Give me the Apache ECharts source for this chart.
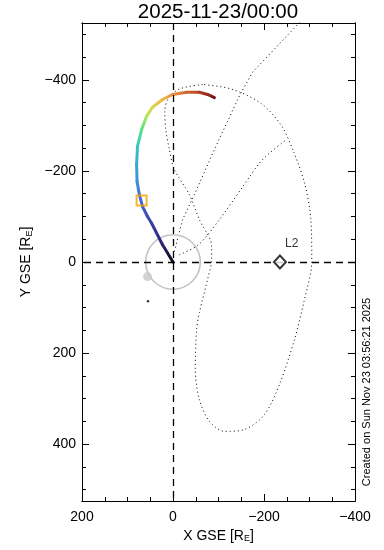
<!DOCTYPE html>
<html><head><meta charset="utf-8">
<script src="https://cdn.jsdelivr.net/npm/echarts@6/dist/echarts.min.js"></script>
<style>html,body{margin:0;padding:0;background:#fff}#c{width:384px;height:550px}</style>
</head><body><div id="c"></div>
<script>
// ---- texts ----
const titleText = '2025-11-23/00:00';
const createdText = 'Created on Sun Nov 23 03:56:21 2025';
const xName = 'X GSE [R{sub|E}]';
const yName = 'Y GSE [R{sub|E}]';
// ---- ticks ----
const xTicks = [200, 0, -200, -400];
const xMinor = [150, 100, 50, -50, -100, -150, -250, -300, -350];
const yTicks = [-400, -200, 0, 200, 400];
const yMinor = [-500, -450, -350, -300, -250, -150, -100, -50, 50, 100, 150, 250, 300, 350, 450, 500];
// ---- coloured trajectory (GSE X, Y in Re) and relative time ----
const trackX = [0, 23, 47, 56, 67, 74, 79, 80, 78, 69, 58, 45, 23, 1, -30, -58, -76, -91];
const trackY = [0, -38, -85, -100, -122, -148, -177, -214, -254, -291, -320, -340, -357, -368, -373, -373, -368, -361];
const trackT = [0, 0.1, 0.22, 0.26, 0.31, 0.36, 0.41, 0.46, 0.52, 0.6, 0.66, 0.71, 0.76, 0.8, 0.85, 0.9, 0.94, 1.0];
// ---- dotted orbit paths ----
const dotAX = [-3, -21, -47, -91, -146, -175, -278, -300];
const dotAY = [-23, -93, -148, -247, -365, -417, -526, -552];
const dotCX = [-14, -56, -102, -153, -196, -248];
const dotCY = [-16, -38, -93, -165, -224, -268];
const dotLX = [-65, -14, 10, 18, 16, 8, -3, -36, -58, -85, -85, -76, -58, -52, -49, -58, -80, -113, -157, -201, -234, -267, -289, -305, -303, -290, -266, -238, -194, -128, -65];
const dotLY = [-390, -380, -360, -330, -291, -247, -203, -148, -93, -34, -5, 38, 111, 148, 236, 302, 350, 372, 368, 335, 269, 170, 82, 0, -93, -170, -240, -300, -348, -380, -390];
// ---- point markers ----
const markPos = [69, -135];
const moonPos = [56, 32];
const moonOrbitR = 60;
const smallDot = [55, 86];
const l2Pos = [-235, 0];
const l2Label = 'L2';

const FONT = "'Liberation Sans', Arial, sans-serif";
const stops = [
  [0.0, [20, 10, 30]], [0.1, [45, 35, 110]], [0.25, [60, 70, 180]], [0.35, [70, 110, 215]],
  [0.5, [50, 190, 215]], [0.6, [90, 225, 130]], [0.68, [200, 230, 80]], [0.75, [245, 190, 70]],
  [0.82, [225, 130, 60]], [0.9, [180, 60, 35]], [1.0, [110, 20, 20]]
];
function cmap(t) {
  for (let i = 1; i < stops.length; i++) {
    if (t <= stops[i][0]) {
      const a = stops[i - 1], b = stops[i];
      const f = (t - a[0]) / (b[0] - a[0]);
      const c = a[1].map((v, k) => Math.round(v + (b[1][k] - v) * f));
      return 'rgb(' + c.join(',') + ')';
    }
  }
  return 'rgb(' + stops[stops.length - 1][1].join(',') + ')';
}
const zip = (xs, ys) => xs.map((x, i) => [x, ys[i]]);
const segs = [];
for (let i = 0; i < trackX.length - 1; i++) {
  segs.push([trackX[i], trackY[i], trackX[i + 1], trackY[i + 1], trackT[i], trackT[i + 1]]);
}

const black = '#000';
function xAx(pos, vals, len, labels) {
  return {
    type: 'value', position: pos, min: -400, max: 200, inverse: true,
    axisLine: { show: true, onZero: false, lineStyle: { color: black, width: 1 } },
    axisTick: { show: true, inside: true, length: len, customValues: vals, lineStyle: { color: black, width: 1 } },
    axisLabel: { show: labels, customValues: vals, color: black, fontSize: 14, fontFamily: FONT, margin: 9,
      formatter: v => (v < 0 ? '\u2212' + (-v) : '' + v) },
    splitLine: { show: false }
  };
}
function yAx(pos, vals, len, labels) {
  return {
    type: 'value', position: pos, min: -525, max: 525, inverse: true,
    axisLine: { show: true, onZero: false, lineStyle: { color: black, width: 1 } },
    axisTick: { show: true, inside: true, length: len, customValues: vals, lineStyle: { color: black, width: 1 } },
    axisLabel: { show: labels, customValues: vals, color: black, fontSize: 14, fontFamily: FONT, margin: 6,
      formatter: v => (v < 0 ? '\u2212' + (-v) : '' + v) },
    splitLine: { show: false }
  };
}
const xAxes = [xAx('bottom', xTicks, 7, true), xAx('bottom', xMinor, 4, false), xAx('top', xTicks, 7, false), xAx('top', xMinor, 4, false)];
xAxes[0].name = xName; xAxes[0].nameLocation = 'middle'; xAxes[0].nameGap = 24;
xAxes[0].nameTextStyle = { fontSize: 14, fontFamily: FONT, color: black, rich: { sub: { fontSize: 9, verticalAlign: 'bottom', padding: [6, 0, 0, 0], fontFamily: FONT } } };
const yAxes = [yAx('left', yTicks, 7, true), yAx('left', yMinor, 4, false), yAx('right', yTicks, 7, false), yAx('right', yMinor, 4, false)];
yAxes[0].name = yName; yAxes[0].nameLocation = 'middle'; yAxes[0].nameGap = 47;
yAxes[0].nameTextStyle = { fontSize: 14, fontFamily: FONT, color: black, rich: { sub: { fontSize: 9, verticalAlign: 'bottom', padding: [6, 0, 0, 0], fontFamily: FONT } } };

const dotStyle = { color: black, width: 1, type: [1, 3] };
const chart = echarts.init(document.getElementById('c'), null, { renderer: 'canvas' });
chart.setOption({
  animation: false,
  backgroundColor: '#fff',
  grid: { left: 82, right: 29, top: 23, bottom: 49, containLabel: false },
  xAxis: xAxes,
  yAxis: yAxes,
  graphic: [
    { type: 'text', x: 218, y: 12, style: { text: titleText, font: '20.5px ' + FONT, fill: black, textAlign: 'center', textVerticalAlign: 'middle' } },
    { type: 'text', x: 367, y: 392, rotation: Math.PI / 2, style: { text: createdText, font: '11px ' + FONT, fill: black, textAlign: 'center', textVerticalAlign: 'middle' } }
  ],
  series: [
    {
      type: 'line', data: zip(dotAX, dotAY), showSymbol: false, symbol: 'none', clip: true, z: 2,
      lineStyle: dotStyle,
      markLine: {
        silent: true, symbol: ['none', 'none'], label: { show: false },
        lineStyle: { color: black, width: 1.3, type: [7, 5] },
        data: [{ xAxis: 0 }, { yAxis: 0 }]
      }
    },
    {
      type: 'line', data: zip(dotCX, dotCY), showSymbol: false, symbol: 'none', clip: true, z: 2, smooth: 0.3,
      lineStyle: dotStyle
    },
    {
      type: 'line', data: zip(dotLX, dotLY), showSymbol: false, symbol: 'none', clip: true, z: 2, smooth: 0.3,
      lineStyle: dotStyle
    },
    {
      type: 'custom', z: 3, data: [[0, 0, moonOrbitR]],
      renderItem: function (params, api) {
        const c = api.coord([api.value(0), api.value(1)]);
        const r = api.size([api.value(2), 0])[0];
        return { type: 'circle', shape: { cx: c[0], cy: c[1], r: r }, style: { fill: 'none', stroke: '#c4c4c4', lineWidth: 1.6 } };
      }
    },
    {
      type: 'custom', z: 4, data: segs,
      renderItem: function (params, api) {
        const p1 = api.coord([api.value(0), api.value(1)]);
        const p2 = api.coord([api.value(2), api.value(3)]);
        return {
          type: 'line', shape: { x1: p1[0], y1: p1[1], x2: p2[0], y2: p2[1] },
          style: {
            lineWidth: 3, lineCap: 'round',
            stroke: new echarts.graphic.LinearGradient(p1[0], p1[1], p2[0], p2[1],
              [{ offset: 0, color: cmap(api.value(4)) }, { offset: 1, color: cmap(api.value(5)) }], true)
          }
        };
      }
    },
    {
      type: 'scatter', z: 5, data: [moonPos], symbol: 'circle', symbolSize: 9,
      itemStyle: { color: '#c8c8c8' }
    },
    {
      type: 'scatter', z: 5, data: [smallDot], symbol: 'circle', symbolSize: 2.5,
      itemStyle: { color: black }
    },
    {
      type: 'scatter', z: 6, data: [markPos], symbol: 'rect', symbolSize: 10,
      itemStyle: { color: 'rgba(0,0,0,0)', borderColor: '#f5a200', borderWidth: 2 }
    },
    {
      type: 'scatter', z: 6, data: [l2Pos], symbol: 'diamond', symbolSize: [12, 13],
      itemStyle: { color: '#fff', borderColor: black, borderWidth: 2 },
      label: { show: true, formatter: l2Label, position: [12, -17], color: black, fontSize: 12, fontFamily: FONT }
    }
  ]
});
</script></body></html>
